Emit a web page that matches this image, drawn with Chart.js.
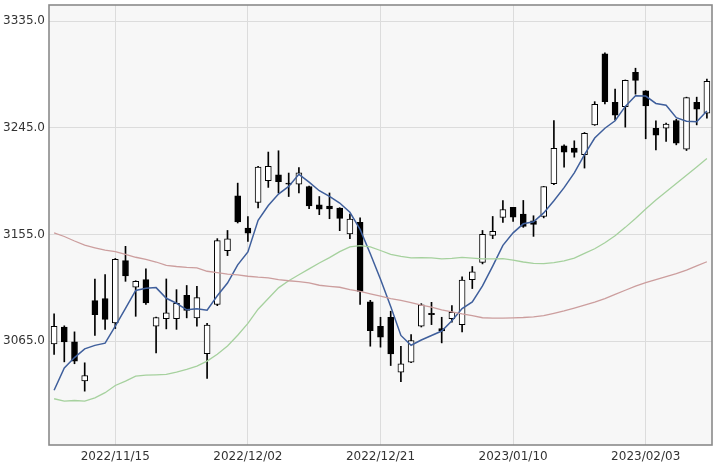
<!DOCTYPE html>
<html><head><meta charset="utf-8">
<script src="https://cdn.jsdelivr.net/npm/chart.js@4/dist/chart.umd.min.js"></script>
<style>html,body{margin:0;padding:0;background:#fff}#wrap{width:715px;height:464px}</style>
</head><body><div id="wrap"><canvas id="c" width="715" height="464"></canvas></div>
<script>
const dates = ['2022/11/07','2022/11/08','2022/11/09','2022/11/10','2022/11/11','2022/11/14','2022/11/15','2022/11/16','2022/11/17','2022/11/18',
'2022/11/21','2022/11/22','2022/11/23','2022/11/24','2022/11/25','2022/11/28','2022/11/29','2022/11/30','2022/12/01','2022/12/02',
'2022/12/05','2022/12/06','2022/12/07','2022/12/08','2022/12/09','2022/12/12','2022/12/13','2022/12/14','2022/12/15','2022/12/16',
'2022/12/19','2022/12/20','2022/12/21','2022/12/22','2022/12/23','2022/12/26','2022/12/27','2022/12/28','2022/12/29','2022/12/30',
'2023/01/03','2023/01/04','2023/01/05','2023/01/06','2023/01/09','2023/01/10','2023/01/11','2023/01/12','2023/01/13','2023/01/16',
'2023/01/17','2023/01/18','2023/01/19','2023/01/20','2023/01/30','2023/01/31','2023/02/01','2023/02/02','2023/02/03','2023/02/06',
'2023/02/07','2023/02/08','2023/02/09','2023/02/10','2023/02/13'];

const openP = [3062.8,3077.0,3064.5,3031.5,3099.3,3101.0,3080.5,3133.0,3110.5,3117.0,
3077.6,3084.0,3084.0,3103.7,3084.7,3054.6,3096.0,3141.4,3187.7,3160.5,
3182.0,3200.3,3205.3,3198.0,3197.5,3195.5,3180.0,3179.0,3177.3,3155.4,
3165.2,3098.2,3077.6,3085.2,3039.0,3047.3,3077.6,3088.5,3075.7,3084.0,
3079.0,3117.0,3131.5,3154.2,3169.4,3177.8,3172.3,3166.6,3170.2,3197.8,
3229.8,3227.8,3222.2,3247.4,3307.3,3266.5,3262.8,3291.8,3276.1,3244.6,
3244.6,3251.1,3227.0,3266.5,3257.3];
const highP = [3088.1,3078.0,3072.9,3046.8,3117.5,3121.2,3134.8,3145.0,3116.0,3126.0,
3085.3,3117.5,3108.5,3112.0,3111.3,3080.0,3151.5,3158.4,3198.3,3170.2,
3212.5,3224.5,3225.6,3206.8,3211.5,3195.8,3187.0,3190.0,3177.6,3172.3,
3169.0,3099.5,3085.2,3090.3,3060.8,3070.6,3096.7,3097.8,3085.2,3095.0,
3119.2,3128.0,3158.4,3170.2,3183.5,3178.0,3183.7,3170.8,3195.5,3251.0,
3230.6,3234.0,3241.0,3267.0,3308.1,3277.5,3285.3,3295.2,3276.3,3250.8,
3249.0,3252.2,3270.8,3270.8,3286.0];
const lowP = [3053.8,3047.6,3046.0,3022.9,3069.8,3074.9,3075.7,3115.5,3086.0,3096.0,
3055.2,3075.4,3075.0,3084.7,3077.6,3033.6,3095.0,3137.2,3164.7,3149.2,
3177.3,3194.7,3190.0,3187.0,3190.0,3176.7,3171.7,3168.3,3158.2,3151.5,
3096.0,3060.8,3060.0,3044.5,3030.8,3047.0,3077.0,3079.0,3063.6,3081.0,
3072.9,3109.4,3130.2,3151.5,3165.2,3166.0,3161.0,3153.4,3169.0,3197.0,
3211.8,3220.2,3211.0,3247.0,3265.0,3251.6,3245.5,3273.3,3235.7,3226.4,
3233.4,3230.6,3225.8,3247.4,3253.0];
const closeP = [3077.6,3064.5,3048.2,3036.1,3087.3,3083.4,3134.1,3120.0,3115.4,3097.2,
3085.0,3088.9,3096.9,3091.0,3101.7,3078.6,3149.8,3151.3,3165.5,3156.1,
3211.8,3212.5,3199.6,3197.4,3207.0,3179.0,3176.3,3176.5,3168.6,3167.9,
3107.1,3073.8,3068.4,3054.4,3045.9,3065.6,3095.6,3087.4,3073.7,3089.3,
3116.5,3123.5,3155.2,3157.6,3176.1,3169.5,3161.8,3163.5,3195.3,3227.6,
3224.4,3224.2,3240.3,3264.8,3267.0,3255.7,3284.9,3285.0,3263.4,3238.7,
3248.1,3232.1,3270.4,3260.7,3284.2];

const ma5 = [3023.7,3042.4,3051.2,3058.6,3061.5,3063.4,3077.7,3092.6,3107.8,3109.7,
3110.2,3101.2,3097.0,3091.5,3092.4,3091.1,3103.3,3114.1,3129.4,3140.3,
3166.9,3179.4,3189.1,3195.5,3205.7,3199.1,3191.9,3187.2,3181.5,3173.7,
3159.3,3138.8,3117.2,3094.3,3069.9,3061.6,3066.0,3069.8,3073.6,3082.3,
3092.5,3098.1,3111.6,3128.4,3145.8,3156.4,3164.0,3165.7,3173.2,3183.5,
3194.5,3207.0,3222.4,3236.3,3244.6,3250.9,3263.0,3271.9,3271.7,3265.5,
3264.0,3253.5,3250.5,3250.0,3259.1];
const ma25 = [3016.5,3014.5,3015.0,3014.5,3017.3,3021.6,3027.7,3031.3,3035.5,3036.4,
3036.7,3037.0,3038.9,3041.2,3044.0,3048.2,3054.0,3061.0,3070.0,3080.0,
3092.0,3101.0,3110.0,3116.0,3121.0,3126.0,3131.0,3135.5,3140.5,3144.5,
3145.6,3144.5,3141.5,3138.3,3136.5,3135.3,3135.5,3135.3,3134.5,3134.8,
3135.7,3135.0,3134.4,3134.5,3134.6,3133.3,3131.8,3130.6,3130.5,3131.3,
3132.8,3135.0,3139.0,3143.0,3148.0,3154.0,3161.0,3168.5,3176.5,3184.0,
3191.0,3198.0,3205.0,3212.0,3219.0];
const ma75 = [3156.3,3153.3,3149.5,3146.0,3143.8,3141.8,3140.6,3138.3,3135.8,3134.0,
3131.8,3129.0,3128.0,3127.3,3126.8,3124.0,3122.8,3121.6,3120.9,3119.8,
3119.0,3118.4,3117.0,3116.0,3115.2,3114.2,3112.2,3111.3,3110.5,3108.5,
3107.0,3105.0,3103.0,3101.0,3099.5,3097.5,3095.5,3093.7,3091.5,3089.7,
3088.0,3086.5,3084.8,3084.4,3084.5,3084.7,3085.0,3085.6,3086.5,3088.5,
3090.5,3093.0,3095.5,3098.0,3101.0,3104.5,3108.0,3111.5,3114.5,3117.0,
3119.5,3122.0,3125.0,3128.5,3132.0];

const yTicks = [3065, 3155, 3245, 3335];
const xTickLabels = ['2022/11/15','2022/12/02','2022/12/21','2023/01/10','2023/02/03'];

const rising = closeP.map((c, i) => c >= openP[i]);
const frame = {
  id: 'frame',
  beforeDraw(chart) {
    const {ctx, chartArea: a} = chart;
    ctx.save();
    ctx.fillStyle = '#f7f7f7';
    ctx.fillRect(a.left, a.top, a.right - a.left, a.bottom - a.top);
    ctx.restore();
  },
  afterDraw(chart) {
    const {ctx, chartArea: a} = chart;
    ctx.save();
    ctx.strokeStyle = '#8a8a8a';
    ctx.lineWidth = 1.6;
    ctx.strokeRect(a.left, a.top, a.right - a.left, a.bottom - a.top);
    ctx.restore();
  }
};

new Chart(document.getElementById('c'), {
  type: 'bar',
  data: {
    labels: dates,
    datasets: [
      { type: 'line', data: ma75, borderColor: '#cc9e9e', borderWidth: 1.3, pointRadius: 0, tension: 0, order: 0 },
      { type: 'line', data: ma25, borderColor: '#a6d19e', borderWidth: 1.3, pointRadius: 0, tension: 0, order: 0 },
      { type: 'line', data: ma5, borderColor: '#3f5f9c', borderWidth: 1.5, pointRadius: 0, tension: 0, order: 0 },
      { data: openP.map((o, i) => [Math.min(o, closeP[i]), Math.max(o, closeP[i])]),
        backgroundColor: rising.map(r => r ? '#ffffff' : '#000000'),
        borderColor: '#000000', borderWidth: 1, borderSkipped: false,
        barThickness: 6, grouped: false, minBarLength: 1, order: 1 },
      { data: lowP.map((l, i) => [l, highP[i]]),
        backgroundColor: '#000000', borderWidth: 0,
        barThickness: 1, grouped: false, order: 2 }
    ]
  },
  options: {
    responsive: false,
    animation: false,
    devicePixelRatio: 1,
    layout: { padding: { top: 5, right: 3, left: 0, bottom: 0 } },
    plugins: { legend: { display: false }, tooltip: { enabled: false } },
    scales: {
      x: {
        offset: true,
        grid: { offset: false, color: '#dcdcdc', lineWidth: 1, drawTicks: false },
        border: { display: false },
        ticks: { autoSkip: false, maxRotation: 0, padding: 5, color: '#333',
                 font: { family: 'DejaVu Sans', size: 12 } },
        afterBuildTicks(scale) {
          scale.ticks = scale.ticks.filter(t => xTickLabels.includes(dates[t.value]));
        },
        afterFit(scale) { scale.height = 19; scale.paddingLeft = 0; scale.paddingRight = 0; }
      },
      y: {
        min: 2977.5, max: 3348.5,
        grid: { color: '#dcdcdc', lineWidth: 1, drawTicks: false },
        border: { display: false },
        ticks: { padding: 4, color: '#333', font: { family: 'DejaVu Sans', size: 12 },
                 callback: v => Number(v).toFixed(1) },
        afterBuildTicks(scale) { scale.ticks = yTicks.map(v => ({ value: v })); },
        afterFit(scale) { scale.width = 49; scale.paddingTop = 0; scale.paddingBottom = 0; }
      }
    }
  },
  plugins: [frame]
});
</script>
</body></html>
